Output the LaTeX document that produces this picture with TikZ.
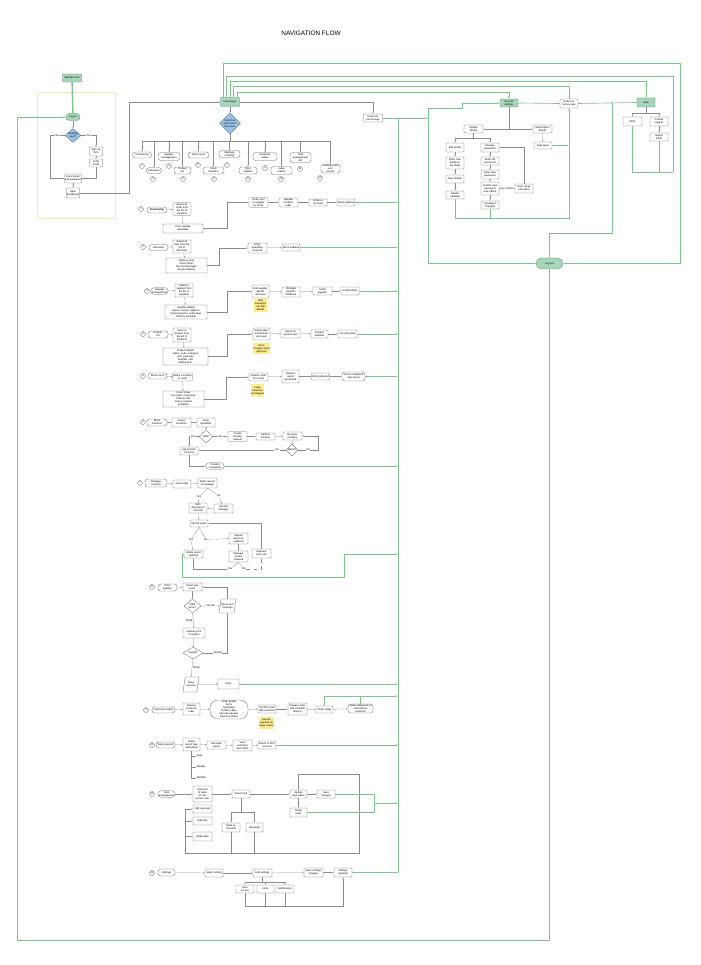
\documentclass[tikz,border=0pt]{standalone}
\usepackage{fontspec}
\setmainfont{Liberation Sans}
\usetikzlibrary{arrows.meta, shapes.geometric, calc, positioning}

\definecolor{glinecol}{RGB}{126,196,140}
\definecolor{gfill}{RGB}{168,214,186}
\definecolor{gdraw}{RGB}{78,140,104}
\definecolor{bfill}{RGB}{156,193,228}
\definecolor{bdraw}{RGB}{72,112,160}
\definecolor{nfill}{RGB}{255,236,140}
\definecolor{fcol}{RGB}{240,236,180}

\newcommand{\tf}{\fontsize{2.2}{2.6}\selectfont}

\begin{document}
\begin{tikzpicture}[x=0.03cm, y=-0.03cm,
    box/.style={rectangle, draw=black!60, line width=0.25pt, fill=white, rounded corners=0.6pt, align=center, font=\tf, inner sep=0.4pt},
    pill/.style={box, rounded corners=2.4pt},
    startbox/.style={box, draw=gdraw, fill=gfill},
    notebox/.style={rectangle, fill=nfill, align=center, font=\tf, inner sep=0.4pt},
    decision/.style={diamond, draw=black!60, line width=0.25pt, fill=white, align=center, font=\tf, inner sep=0pt},
    para/.style={trapezium, trapezium left angle=70, trapezium right angle=110, trapezium stretches=true, draw=black!60, line width=0.25pt, fill=white, align=center, font=\tf, inner sep=0pt},
    num/.style={circle, draw=black!60, line width=0.25pt, minimum size=0.15cm, inner sep=0pt, font=\tf},
    lbl/.style={font=\tf, inner sep=0.5pt, fill=white},
    sz/.style 2 args={minimum width=#1*0.03cm, minimum height=#2*0.03cm},
    conn/.style={draw=black!45, line width=0.2pt},
    arrow/.style={conn, -{Latex[length=1.3pt, width=1.1pt]}},
    gline/.style={draw=glinecol, line width=0.55pt},
    garrow/.style={gline, -{Latex[length=1.8pt, width=1.5pt]}}
]
    \fill[white] (0,0) rectangle (700,965);
    \useasboundingbox (0,0) rectangle (700,965);

    \node[font=\fontsize{5.5}{6}\selectfont] (title) at (311,33) {NAVIGATION FLOW};

    % Login block
    \draw[draw=fcol, line width=0.5pt] (37,92) rectangle (115,218);
    \node[startbox, sz={19}{8}] (web) at (72,78) {Website start};
    \node[startbox, rounded corners=2.8pt, sz={14}{7}] (login) at (73,117) {Log in};
    \node[decision, fill=bfill, draw=bdraw, sz={16}{13}] (existing) at (73,135.5) {Existing\\user?};
    \node[box, sz={13}{9}] (signup) at (96,151.5) {Sign up\\form};
    \node[box, sz={13}{8}] (verify) at (96,163) {Verify\\email};
    \node[box, sz={13}{9}] (enter) at (73,178.5) {Enter email\\and password};
    \node[box, sz={13}{10}] (godash) at (73,193) {Open\\dashboard};

    \draw[gline, line width=1.2pt] (web) -- (login);
    \draw[arrow] (login) -- (existing);
    \draw[arrow] (existing.west) -- node[lbl] {Yes} ++(-15,0) |- (enter.west);
    \draw[arrow] (existing.east) -| node[lbl, pos=0.25] {No} (signup.north);
    \draw[arrow] (signup) -- (verify);
    \draw[arrow] (verify.south) |- (enter.east);
    \draw[arrow] (enter) -- (godash);

    % Homepage and menu
    \node[startbox, sz={19}{9}] (home) at (230,102) {Homepage};
    \node[decision, fill=bfill, draw=bdraw, sz={21}{20}] (menu) at (230,123.5) {Select an\\option from\\the menu};
    \draw[arrow] (godash.east) -- ++(49,0) |- (home.west);
    \draw[arrow] (home) -- (menu);

    \node[pill, sz={19}{6}] (m1) at (142,155) {Purchasing};
    \node[pill, sz={15}{6}] (m2) at (154,170.5) {Deliveries};
    \node[pill, sz={22}{8}] (m3) at (169,156.5) {Supplier\\management};
    \node[pill, sz={17}{7}] (m4) at (182.5,170.5) {Product\\list};
    \node[pill, sz={21}{6}] (m5) at (198.5,155) {Stock count};
    \node[pill, sz={21}{7}] (m6) at (213.5,170.5) {Stock\\transfers};
    \node[pill, sz={21}{7}] (m7) at (229.5,154) {Wastage\\tracking};
    \node[pill, sz={18}{7}] (m8) at (248,170.5) {Price\\updates};
    \node[pill, sz={24}{8}] (m9) at (265,156.5) {Customer\\orders};
    \node[pill, sz={21}{8}] (m10) at (281.5,170.5) {Sales\\reports};
    \node[pill, sz={21}{10}] (m11) at (300.5,157.5) {Task\\management\\list};
    \node[pill, sz={19}{9}] (m12) at (330.5,168.5) {Settings and\\user\\access};

    \node[num] (c1) at (142,166) {1};
    \node[num] (c2) at (153,179) {2};
    \node[num] (c3) at (169,166) {3};
    \node[num] (c4) at (183,179) {4};
    \node[num] (c5) at (198,165) {5};
    \node[num] (c6) at (214,179) {6};
    \node[num] (c7) at (227,165) {7};
    \node[num] (c8) at (248,179) {8};
    \node[num] (c9) at (265,168) {9};
    \node[num] (c10) at (281,179) {10};
    \node[num] (c11) at (300,169) {11};
    \node[num] (c12) at (320,178) {12};

    \coordinate (bar) at (230,141);
    \draw[conn] (menu.south) -- (bar);
    \draw[conn] (m1 |- bar) -- (m12 |- bar);
    \draw[arrow] (m1 |- bar) -- (m1.north);
    \draw[arrow] (m2 |- bar) -- (m2.north);
    \draw[arrow] (m3 |- bar) -- (m3.north);
    \draw[arrow] (m4 |- bar) -- (m4.north);
    \draw[arrow] (m5 |- bar) -- (m5.north);
    \draw[arrow] (m6 |- bar) -- (m6.north);
    \draw[arrow] (m7 |- bar) -- (m7.north);
    \draw[arrow] (m8 |- bar) -- (m8.north);
    \draw[arrow] (m9 |- bar) -- (m9.north);
    \draw[arrow] (m10 |- bar) -- (m10.north);
    \draw[arrow] (m11 |- bar) -- (m11.north);
    \draw[arrow] (m12 |- bar) -- (m12.north);

    \node[box, sz={19}{8}] (rethome) at (373,118) {Return to\\home page};
    \draw[arrow] (home.east) -| (rethome.north);

    % Right block: account, help, log out
    \node[startbox, sz={18}{8}] (acct) at (509,103) {Account\\settings};
    \node[box, sz={18}{9}] (retbox) at (569,103.5) {Return to\\home page};
    \node[startbox, sz={18}{9}] (help) at (646,102.5) {Help};
    \node[startbox, rounded corners=4.6pt, sz={27}{11}] (logout) at (549.5,263.5) {Log out};

    \node[box, sz={19}{8}] (upd) at (473.5,129) {Update\\details};
    \node[box, sz={19}{8}] (sub) at (542.5,129) {Subscription\\details};
    \node[box, sz={18}{7}] (plans) at (543,145.5) {View plans};
    \node[box, sz={18}{9}] (la1) at (455,147.5) {Edit profile};
    \node[box, sz={18}{12}] (la2) at (455,163) {Enter new\\details in\\the fields};
    \node[box, sz={18}{8}] (la3) at (455,179) {Save details};
    \node[box, sz={18}{8}] (la4) at (455,195) {Details\\updated};
    \node[box, sz={18}{9}] (ra1) at (490,147.5) {Change\\password};
    \node[box, sz={18}{8}] (ra2) at (490,161) {Enter old\\password};
    \node[box, sz={18}{9}] (ra3) at (490,174.5) {Enter new\\password};
    \node[box, sz={18}{13}] (ra4) at (490,188.5) {Confirm new\\password\\and submit};
    \node[box, sz={18}{8}] (ra5) at (490,205) {Password\\changed};
    \node[box, sz={18}{9}] (rside) at (524,188.5) {Error: does\\not match};
    \node[box, sz={19}{9}] (faq) at (632.5,121.5) {FAQs};
    \node[box, sz={18}{9}] (contact) at (659,121.5) {Contact\\support};
    \node[box, sz={18}{8}] (ticket) at (659,137) {Submit\\ticket};

    \coordinate (aspl) at (509,129);
    \draw[conn] (acct.south) -- (aspl);
    \draw[arrow] (aspl) -- (upd.east);
    \draw[arrow] (aspl) -- (sub.west);
    \draw[arrow] (sub) -- (plans);
    \coordinate (uspl) at (473.5,138);
    \draw[conn] (upd.south) -- (uspl);
    \draw[arrow] (uspl) -| (la1.north);
    \draw[arrow] (uspl) -| (ra1.north);
    \draw[arrow] (la1) -- (la2);
    \draw[arrow] (la2) -- (la3);
    \draw[arrow] (la3) -- (la4);
    \draw[arrow] (ra1) -- (ra2);
    \draw[arrow] (ra2) -- (ra3);
    \draw[arrow] (ra3) -- (ra4);
    \draw[arrow] (ra4) -- (ra5);
    \draw[arrow] (ra4.east) -- node[lbl] {No match} (rside.west);
    \draw[arrow] (rside.north) |- (ra1.east);
    \coordinate (abot) at (455,218);
    \draw[garrow] (la4.south) -- (abot) -| (retbox.south);
    \draw[gline] (ra5.south) -- (ra5.south |- abot);
    \draw[garrow] (plans.east) -- (plans.east -| retbox);

    \coordinate (hspl) at (646,113);
    \coordinate (hbot) at (673,172);
    \draw[conn] (help.south) -- (hspl);
    \draw[arrow] (hspl) -| (faq.north);
    \draw[arrow] (hspl) -| (contact.north);
    \draw[arrow] (contact) -- (ticket);
    \draw[gline] (faq.south) -- (faq.south |- hbot) -- (hbot);
    \draw[gline] (ticket.south) -- (ticket.south |- hbot);

    \draw[gline] (acct.east) -- (retbox.west);
    \draw[gline] (retbox.east) -- (help.west);

    % Tracks over the top from the homepage
    \coordinate (t1) at (223,63);
    \coordinate (t2) at (226.5,76);
    \coordinate (t3) at (230,81);
    \coordinate (t4) at (233.5,86);
    \coordinate (t5) at (237,92);
    \coordinate (rtop) at (680,63);
    \coordinate (lo) at (612,233);
    \draw[garrow] (t1 |- home.north) -- (t1) -- (rtop) |- (logout.east);
    \draw[garrow] (hbot) |- (t2) -- (t2 |- home.north);
    \draw[garrow] (t3 |- home.north) -- (t3) -| (help.north);
    \draw[garrow] (retbox.north) |- (t4) -- (t4 |- home.north);
    \draw[garrow] (t5 |- home.north) -- (t5) -| (acct.north);
    \draw[garrow] (lo |- help.west) -- (lo) -| (logout.north);

    % Return bus from every section
    \coordinate (bus) at (398,118);
    \coordinate (rbus) at (428,118);
    \draw[garrow] (rethome.east) -- (rbus);
    \draw[garrow] (rbus) |- (logout.west);
    \draw[garrow] (rbus) -- ++(0,-10) -- ++(34,0) |- (acct.west);
    \coordinate (bl) at (17,940);
    \draw[garrow] (logout.south) |- (bl) |- (login.west);

    % Section 1
    \node[num] (n1) at (141,209) {1};
    \node[pill, sz={20}{6}, font=\tf\bfseries] (s1) at (157,210) {Purchasing};
    \node[box, sz={18}{12}] (s1a) at (182,209) {Select an\\order from\\the list of\\suppliers};
    \node[box, sz={40}{9}] (s1b) at (183,228.5) {Print / update\\quantities};
    \node[box, sz={19}{9}] (s1c) at (258.5,202.5) {Order sent\\to supplier\\by email};
    \node[box, sz={19}{9}] (s1d) at (288.5,202.5) {Supplier\\confirms\\order};
    \node[box, sz={18}{7}] (s1e) at (318,202.5) {Order is\\received};
    \node[box, sz={18}{7}] (s1f) at (346,202.5) {Stock updated};
    \draw[arrow] (s1) -- (s1a);
    \draw[arrow] (s1a) -- (s1b);
    \draw[arrow] (s1b.east) -- ++(24,0) |- (s1c.west);
    \draw[arrow] (s1c) -- (s1d);
    \draw[arrow] (s1d) -- (s1e);
    \draw[arrow] (s1e) -- (s1f);
    \draw[garrow] (s1f.east) -- (s1f.east -| bus);

    % Section 2
    \node[num] (n2) at (143,247) {2};
    \node[pill, sz={19}{6}] (s2) at (158.5,247.5) {Deliveries};
    \node[box, sz={18}{13}] (s2a) at (182,246.5) {Select an\\item from the\\list of\\deliveries};
    \node[box, sz={41}{15}] (s2b) at (186.5,265.5) {Delivery note\\Check items\\Record shortages\\Accept delivery};
    \node[box, sz={19}{10}] (s2c) at (257.5,248) {Enter\\quantities\\received};
    \node[box, sz={18}{7}] (s2d) at (291,247.5) {Stock updated};
    \draw[arrow] (s2) -- (s2a);
    \draw[arrow] (s2a) -- (s2b);
    \draw[arrow] (s2b.east) -- ++(12,0) |- (s2c.west);
    \draw[arrow] (s2c) -- (s2d);
    \draw[garrow] (s2d.east) -- (s2d.east -| bus);

    % Section 3
    \node[num] (n3) at (147,291) {3};
    \node[pill, sz={17}{6}] (s3) at (159.5,291) {Supplier\\management};
    \node[box, sz={18}{13}] (s3a) at (184,290.5) {Select a\\supplier from\\the list of\\suppliers};
    \node[box, sz={42}{14}] (s3b) at (186,312) {Supplier details\\Name, contact, address\\Payment terms, order days\\Delivery schedule};
    \node[box, sz={17}{13}] (s3c) at (260.5,291.5) {Edit supplier\\details\\and save};
    \node[notebox, sz={13}{13}] (note3) at (260.5,305.5) {Only\\managers\\can edit\\details};
    \node[box, sz={18}{10}] (s3d) at (291,292) {Changes\\saved to\\database};
    \node[box, sz={19}{8}] (s3e) at (322.5,291) {Notify\\supplier};
    \node[box, sz={18}{8}] (s3f) at (350,291) {Confirmation};
    \draw[arrow] (s3) -- (s3a);
    \draw[arrow] (s3a) -- (s3b);
    \draw[arrow] (s3b.east) -- ++(20,0) |- (s3c.west);
    \draw[arrow] (s3c) -- (s3d);
    \draw[arrow] (s3d) -- (s3e);
    \draw[arrow] (s3e) -- (s3f);
    \draw[garrow] (s3f.east) -- (s3f.east -| bus);

    % Section 4
    \node[num] (n4) at (143,334) {4};
    \node[pill, sz={20}{7}] (s4) at (158,334.5) {Product\\list};
    \node[box, sz={18}{14}] (s4a) at (182,335) {Select a\\product from\\the list of\\products};
    \node[box, sz={45}{17}] (s4b) at (185.5,356.5) {Product details\\Name, code, category\\Unit, pack size\\Supplier, cost\\Selling price};
    \node[box, sz={17}{12}] (s4c) at (261.5,334) {Edit product\\information\\and save};
    \node[notebox, sz={13}{11}] (note4) at (261.5,348.5) {Price\\changes need\\approval};
    \node[box, sz={19}{9}] (s4d) at (290.5,333.5) {Approval\\request sent};
    \node[box, sz={17}{8}] (s4e) at (319.5,334) {Product\\updated};
    \node[box, sz={19}{8}] (s4f) at (347.5,334) {List refreshed};
    \draw[arrow] (s4) -- (s4a);
    \draw[arrow] (s4a) -- (s4b);
    \draw[arrow] (s4b.east) -- ++(19,0) |- (s4c.west);
    \draw[arrow] (s4c) -- (s4d);
    \draw[arrow] (s4d) -- (s4e);
    \draw[arrow] (s4e) -- (s4f);
    \draw[garrow] (s4f.east) -- (s4f.east -| bus);

    % Section 5
    \node[num] (n5) at (143,376) {5};
    \node[pill, sz={19}{6}] (s5) at (157.5,376) {Stock count};
    \node[box, sz={19}{8}] (s5a) at (182.5,377) {Select a location\\to count};
    \node[box, sz={41}{16}] (s5b) at (183.5,399) {Count sheet\\Dry store, Cold store\\Freezer, Bar\\Enter counted\\quantities};
    \node[box, sz={19}{8}] (s5c) at (258.5,377) {Submit count\\for review};
    \node[notebox, sz={13}{13}] (note5) at (257.5,390.5) {Large\\variances\\are flagged};
    \node[box, sz={17}{13}] (s5d) at (290.5,376.5) {Variance\\report\\generated};
    \node[box, sz={17}{7}] (s5e) at (320.5,376.5) {Stock adjusted};
    \node[pill, sz={23}{9}] (s5f) at (353.5,376.5) {Count completed\\and saved};
    \draw[arrow] (s5) -- (s5a);
    \draw[arrow] (s5a) -- (s5b);
    \draw[arrow] (s5b.east) -- ++(22,0) |- (s5c.west);
    \draw[arrow] (s5c) -- (s5d);
    \draw[arrow] (s5d) -- (s5e);
    \draw[arrow] (s5e) -- (s5f);
    \draw[garrow] (s5f.east) -- (s5f.east -| bus);

    % Section 6
    \node[num] (n6) at (143,422) {6};
    \node[pill, sz={20}{7}] (s6) at (157,422.5) {Stock\\transfers};
    \node[box, sz={19}{9}] (s6a) at (181.5,422.5) {Select\\locations};
    \node[box, sz={18}{9}] (s6b) at (206,422.5) {Enter\\quantities};
    \node[decision, sz={14}{13}] (d6a) at (206,436.5) {Valid?};
    \node[box, sz={19}{9}] (s6c) at (237.5,436.5) {Create\\transfer\\request};
    \node[box, sz={19}{7}] (s6d) at (265.5,436.5) {Send to\\location};
    \node[box, sz={19}{8}] (s6e) at (292.5,436) {Receiver\\confirms};
    \node[decision, sz={12}{12}] (d6b) at (292,450) {Match?};
    \node[box, sz={18}{8}] (s6f) at (189,451) {Log transfer\\in history};
    \node[pill, sz={18}{6}] (s6g) at (215,466) {Transfer\\completed};
    \draw[arrow] (s6) -- (s6a);
    \draw[arrow] (s6a) -- (s6b);
    \draw[arrow] (s6b) -- (d6a);
    \draw[arrow] (d6a.east) -- node[lbl] {No} (s6c.west);
    \draw[arrow] (s6c) -- (s6d);
    \draw[arrow] (s6d) -- (s6e);
    \draw[arrow] (s6e) -- (d6b);
    \draw[arrow] (d6b.east) -- node[lbl] {No} ++(20,0) |- (s6e.east);
    \draw[arrow] (d6b.west) -- node[lbl, pos=0.1] {Yes} (d6b.west -| s6f.east);
    \draw[arrow] (d6a.west) -| node[lbl, pos=0.3] {Yes} (s6f.north);
    \draw[arrow] (s6f.south) |- (s6g.west);
    \draw[garrow] (s6g.east) -- (s6g.east -| bus);

    % Section 7
    \node[num] (n7) at (140,483) {7};
    \node[pill, sz={22}{8}] (s7) at (156,483) {Wastage\\tracking};
    \node[box, sz={18}{8}] (s7a) at (182,484) {Select item};
    \node[box, sz={19}{10}] (s7b) at (207.5,483) {Enter reason\\for wastage};
    \node[lbl] (l7a) at (199,497) {Yes};
    \node[lbl] (l7b) at (219,496) {No};
    \node[box, sz={18}{10}] (s7c) at (198,508) {Item\\disposed of\\correctly};
    \node[box, sz={19}{9}] (s7d) at (223.5,508.5) {Contact\\manager};
    \node[box, sz={18}{7}] (s7e) at (199,523.5) {Record waste};
    \node[lbl] (l7c) at (191,540) {Yes};
    \node[lbl] (l7d) at (206,540) {No};
    \node[box, sz={19}{8}] (s7f) at (193.5,554) {Waste report\\updated};
    \node[box, sz={19}{11}] (s7g) at (238.5,538.5) {Upload\\photo as\\evidence};
    \node[box, sz={19}{11}] (s7h) at (238.5,556.5) {Manager\\review\\required};
    \node[box, sz={19}{9}] (s7i) at (261.5,553.5) {Request\\more info};
    \node[lbl] (l7e) at (230,569) {Yes};
    \node[lbl] (l7f) at (244,569) {No};
    \draw[arrow] (s7) -- (s7a);
    \draw[arrow] (s7a) -- (s7b);
    \draw[conn] (s7b.south) -- (l7a);
    \draw[conn] (s7b.south) -- (l7b);
    \draw[arrow] (l7a) -- (s7c);
    \draw[arrow] (l7b) -- (s7d);
    \draw[arrow] (s7d) -- (s7c);
    \draw[arrow] (s7c) -- (s7e);
    \draw[conn] (s7e.south) -- (l7c);
    \draw[conn] (s7e.south) -- (l7d);
    \draw[arrow] (l7c) -- (s7f);
    \draw[arrow, dashed] (l7d) -- (s7g.west);
    \draw[arrow] (s7g) -- (s7h);
    \draw[conn] (s7h.south) -- (l7e);
    \draw[conn] (s7h.south) -- (l7f);
    \draw[arrow] (l7e.west) -| (s7f.south);
    \draw[arrow, dashed] (l7f.east) -| (s7i.south);
    \draw[arrow] (s7i.north) |- (s7e.east);
    \coordinate (g7) at (344,577);
    \draw[garrow] (s7f.west) -- ++(-2,0) |- (g7) |- (bus |- s7f);

    % Section 8
    \node[num] (n8) at (152,587) {8};
    \node[pill, sz={19}{7}] (s8) at (167.5,587.5) {Price\\updates};
    \node[box, sz={19}{8}] (s8a) at (192.5,587) {Enter new\\price};
    \node[decision, sz={17}{14}] (d8a) at (192.5,606) {Valid\\price?};
    \node[para, sz={17}{14}] (p8a) at (227.5,606) {Show error\\message};
    \node[box, sz={22}{10}] (s8b) at (194,633) {Update price\\in system};
    \node[decision, sz={20}{12}] (d8b) at (193,653) {Saved?};
    \node[para, sz={16}{15}] (p8b) at (191,684.5) {Show\\success};
    \node[box, sz={21}{10}] (s8c) at (228.5,684) {Done};
    \draw[arrow] (s8) -- (s8a);
    \draw[arrow] (s8a) -- (d8a);
    \draw[arrow] (d8a.east) -- node[lbl] {FALSE} (p8a.west);
    \draw[arrow] (p8a.north) |- (s8a.east);
    \draw[arrow] (d8a.south) -- node[lbl, left] {TRUE} (s8b.north);
    \draw[arrow] (s8b) -- (d8b);
    \draw[arrow] (d8b.east) -| node[lbl, pos=0.3] {FALSE} (p8a.south);
    \draw[arrow] (d8b.south) -- node[lbl, right] {TRUE} (p8b.north);
    \draw[arrow] (p8b) -- (s8c);
    \draw[garrow] (s8c.east) -- (s8c.east -| bus);

    % Section 9
    \node[num] (n9) at (146,710) {9};
    \node[pill, sz={23}{6}] (s9) at (163.5,710) {Customer orders};
    \node[box, sz={17}{12}] (s9a) at (191.5,709) {Select a\\customer\\order};
    \node[box, rounded corners=7pt, sz={38}{19}] (s9b) at (229,709.5) {Order details\\Items\\Quantities\\Delivery date\\Special requests\\Payment status};
    \node[box, sz={18}{8}] (s9c) at (267,709) {Confirm order\\with customer};
    \node[notebox, sz={13}{12}] (note9) at (266.5,723) {Deposit\\required for\\large orders};
    \node[box, sz={19}{12}] (s9d) at (297.5,709) {Prepare order\\and schedule\\delivery};
    \node[box, sz={17}{7}] (s9e) at (324.5,709.5) {Order ready};
    \node[pill, sz={25}{9}] (s9f) at (360.5,708.5) {Order delivered or\\collected by\\customer};
    \draw[arrow] (s9) -- (s9a);
    \draw[arrow] (s9a) -- (s9b);
    \draw[arrow] (s9b) -- (s9c);
    \draw[arrow] (s9c) -- (s9d);
    \draw[arrow] (s9d) -- (s9e);
    \draw[arrow] (s9e) -- (s9f);
    \coordinate (g9) at (398,696);
    \draw[garrow] (s9e.north) |- (g9);
    \draw[gline] (s9f.north) -- (s9f.north |- g9);

    % Section 10
    \node[num] (n10) at (152,745) {10};
    \node[pill, sz={19}{6}] (s10) at (165.5,745) {Sales reports};
    \node[box, sz={17}{13}] (s10a) at (191.5,744.5) {Select\\report type\\and period};
    \node[box, sz={19}{8}] (s10b) at (216.5,745) {Generate\\report};
    \node[box, sz={19}{11}] (s10c) at (242.5,745.5) {View\\summary\\and charts};
    \node[box, sz={18}{8}] (s10d) at (267,745) {Export to PDF\\or Excel};
    \node[lbl, anchor=west] (l10a) at (196,756) {Daily};
    \node[lbl, anchor=west] (l10b) at (196,767) {Weekly};
    \node[lbl, anchor=west] (l10c) at (196,778) {Monthly};
    \draw[arrow] (s10) -- (s10a);
    \draw[arrow] (s10a) -- (s10b);
    \draw[arrow] (s10b) -- (s10c);
    \draw[arrow] (s10c) -- (s10d);
    \draw[conn] (s10a.south) |- (l10c.west);
    \draw[conn] (s10a.south |- l10a) -- (l10a.west);
    \draw[conn] (s10a.south |- l10b) -- (l10b.west);
    \draw[garrow] (s10d.east) -- (s10d.east -| bus);

    % Section 11
    \node[num] (n11) at (152,794) {11};
    \node[pill, sz={17}{6}] (s11) at (166.5,794) {Task\\management};
    \node[box, sz={19}{16}] (s11a) at (202.5,794) {Show list\\of tasks\\for the\\current user};
    \node[box, sz={19}{8}] (s11b) at (202.5,809) {Add new task};
    \node[box, sz={19}{8}] (s11c) at (202.5,821) {Edit task};
    \node[box, sz={19}{9}] (s11d) at (202.5,836.5) {Delete task};
    \node[box, sz={18}{8}] (s11e) at (241,794) {Select task};
    \node[box, sz={18}{9}] (s11f) at (231,827.5) {Mark as\\complete};
    \node[box, sz={17}{9}] (s11g) at (254.5,827.5) {Reassign};
    \node[box, sz={17}{8}] (s11h) at (298.5,794) {Update\\task status};
    \node[box, sz={17}{9}] (s11i) at (298.5,812.5) {Notify\\team};
    \node[box, sz={18}{8}] (s11j) at (326,794) {Save\\changes};
    \draw[arrow] (s11) -- (s11a);
    \draw[arrow] (s11a) -- (s11e);
    \coordinate (sp11) at (241,812);
    \draw[conn] (s11e.south) -- (sp11);
    \draw[arrow] (sp11) -| (s11f.north);
    \draw[arrow] (sp11) -| (s11g.north);
    \draw[arrow] (s11e) -- (s11h);
    \draw[arrow] (s11h) -- (s11i);
    \draw[arrow] (s11h) -- (s11j);
    \coordinate (lp11) at (359,774);
    \coordinate (lb11) at (185,853);
    \draw[conn] (s11h.north) |- (lp11) |- (lb11) -- (lb11 |- s11b);
    \draw[arrow] (lb11 |- s11b) -- (s11b.west);
    \draw[arrow] (lb11 |- s11c) -- (s11c.west);
    \draw[arrow] (lb11 |- s11d) -- (s11d.west);
    \draw[conn] (s11f.south) -- (s11f.south |- lb11);
    \draw[conn] (s11g.south) -- (s11g.south |- lb11);
    \coordinate (g11) at (374,803);
    \draw[gline] (s11j.east) -| (g11);
    \draw[gline] (s11i.east) -| (g11);
    \draw[garrow] (g11) -- (g11 -| bus);

    % Section 12
    \node[num] (n12) at (152,873) {12};
    \node[pill, sz={17}{7}] (s12) at (166.5,872.5) {Settings};
    \node[box, sz={18}{8}] (s12a) at (214,873) {Select setting};
    \node[box, sz={19}{8}] (s12b) at (262.5,873) {Edit settings};
    \node[box, sz={19}{9}] (s12c) at (313.5,872.5) {Save settings\\changes};
    \node[box, sz={18}{9}] (s12d) at (343,872.5) {Settings\\updated};
    \node[box, sz={18}{8}] (s12e) at (245,889) {User\\access};
    \node[box, sz={17}{8}] (s12f) at (265.5,889) {Units};
    \node[box, sz={18}{8}] (s12g) at (285,889) {Notifications};
    \draw[arrow] (s12) -- (s12a);
    \draw[arrow] (s12a) -- (s12b);
    \draw[arrow] (s12b) -- (s12c);
    \draw[arrow] (s12c) -- (s12d);
    \coordinate (sp12) at (262.5,882);
    \draw[conn] (s12b.south) -- (sp12);
    \draw[arrow] (sp12) -| (s12e.north);
    \draw[arrow] (sp12) -| (s12f.north);
    \draw[arrow] (sp12) -| (s12g.north);
    \coordinate (lb12) at (245,906);
    \draw[arrow] (s12e.south) -- (lb12) -| (s12d.south);
    \draw[conn] (s12f.south) -- (s12f.south |- lb12);
    \draw[conn] (s12g.south) -- (s12g.south |- lb12);
    \draw[garrow] (s12d.east) -- (s12d.east -| bus);
    \draw[gline] (s12d.east -| bus) -- (bus);
\end{tikzpicture}
\end{document}
